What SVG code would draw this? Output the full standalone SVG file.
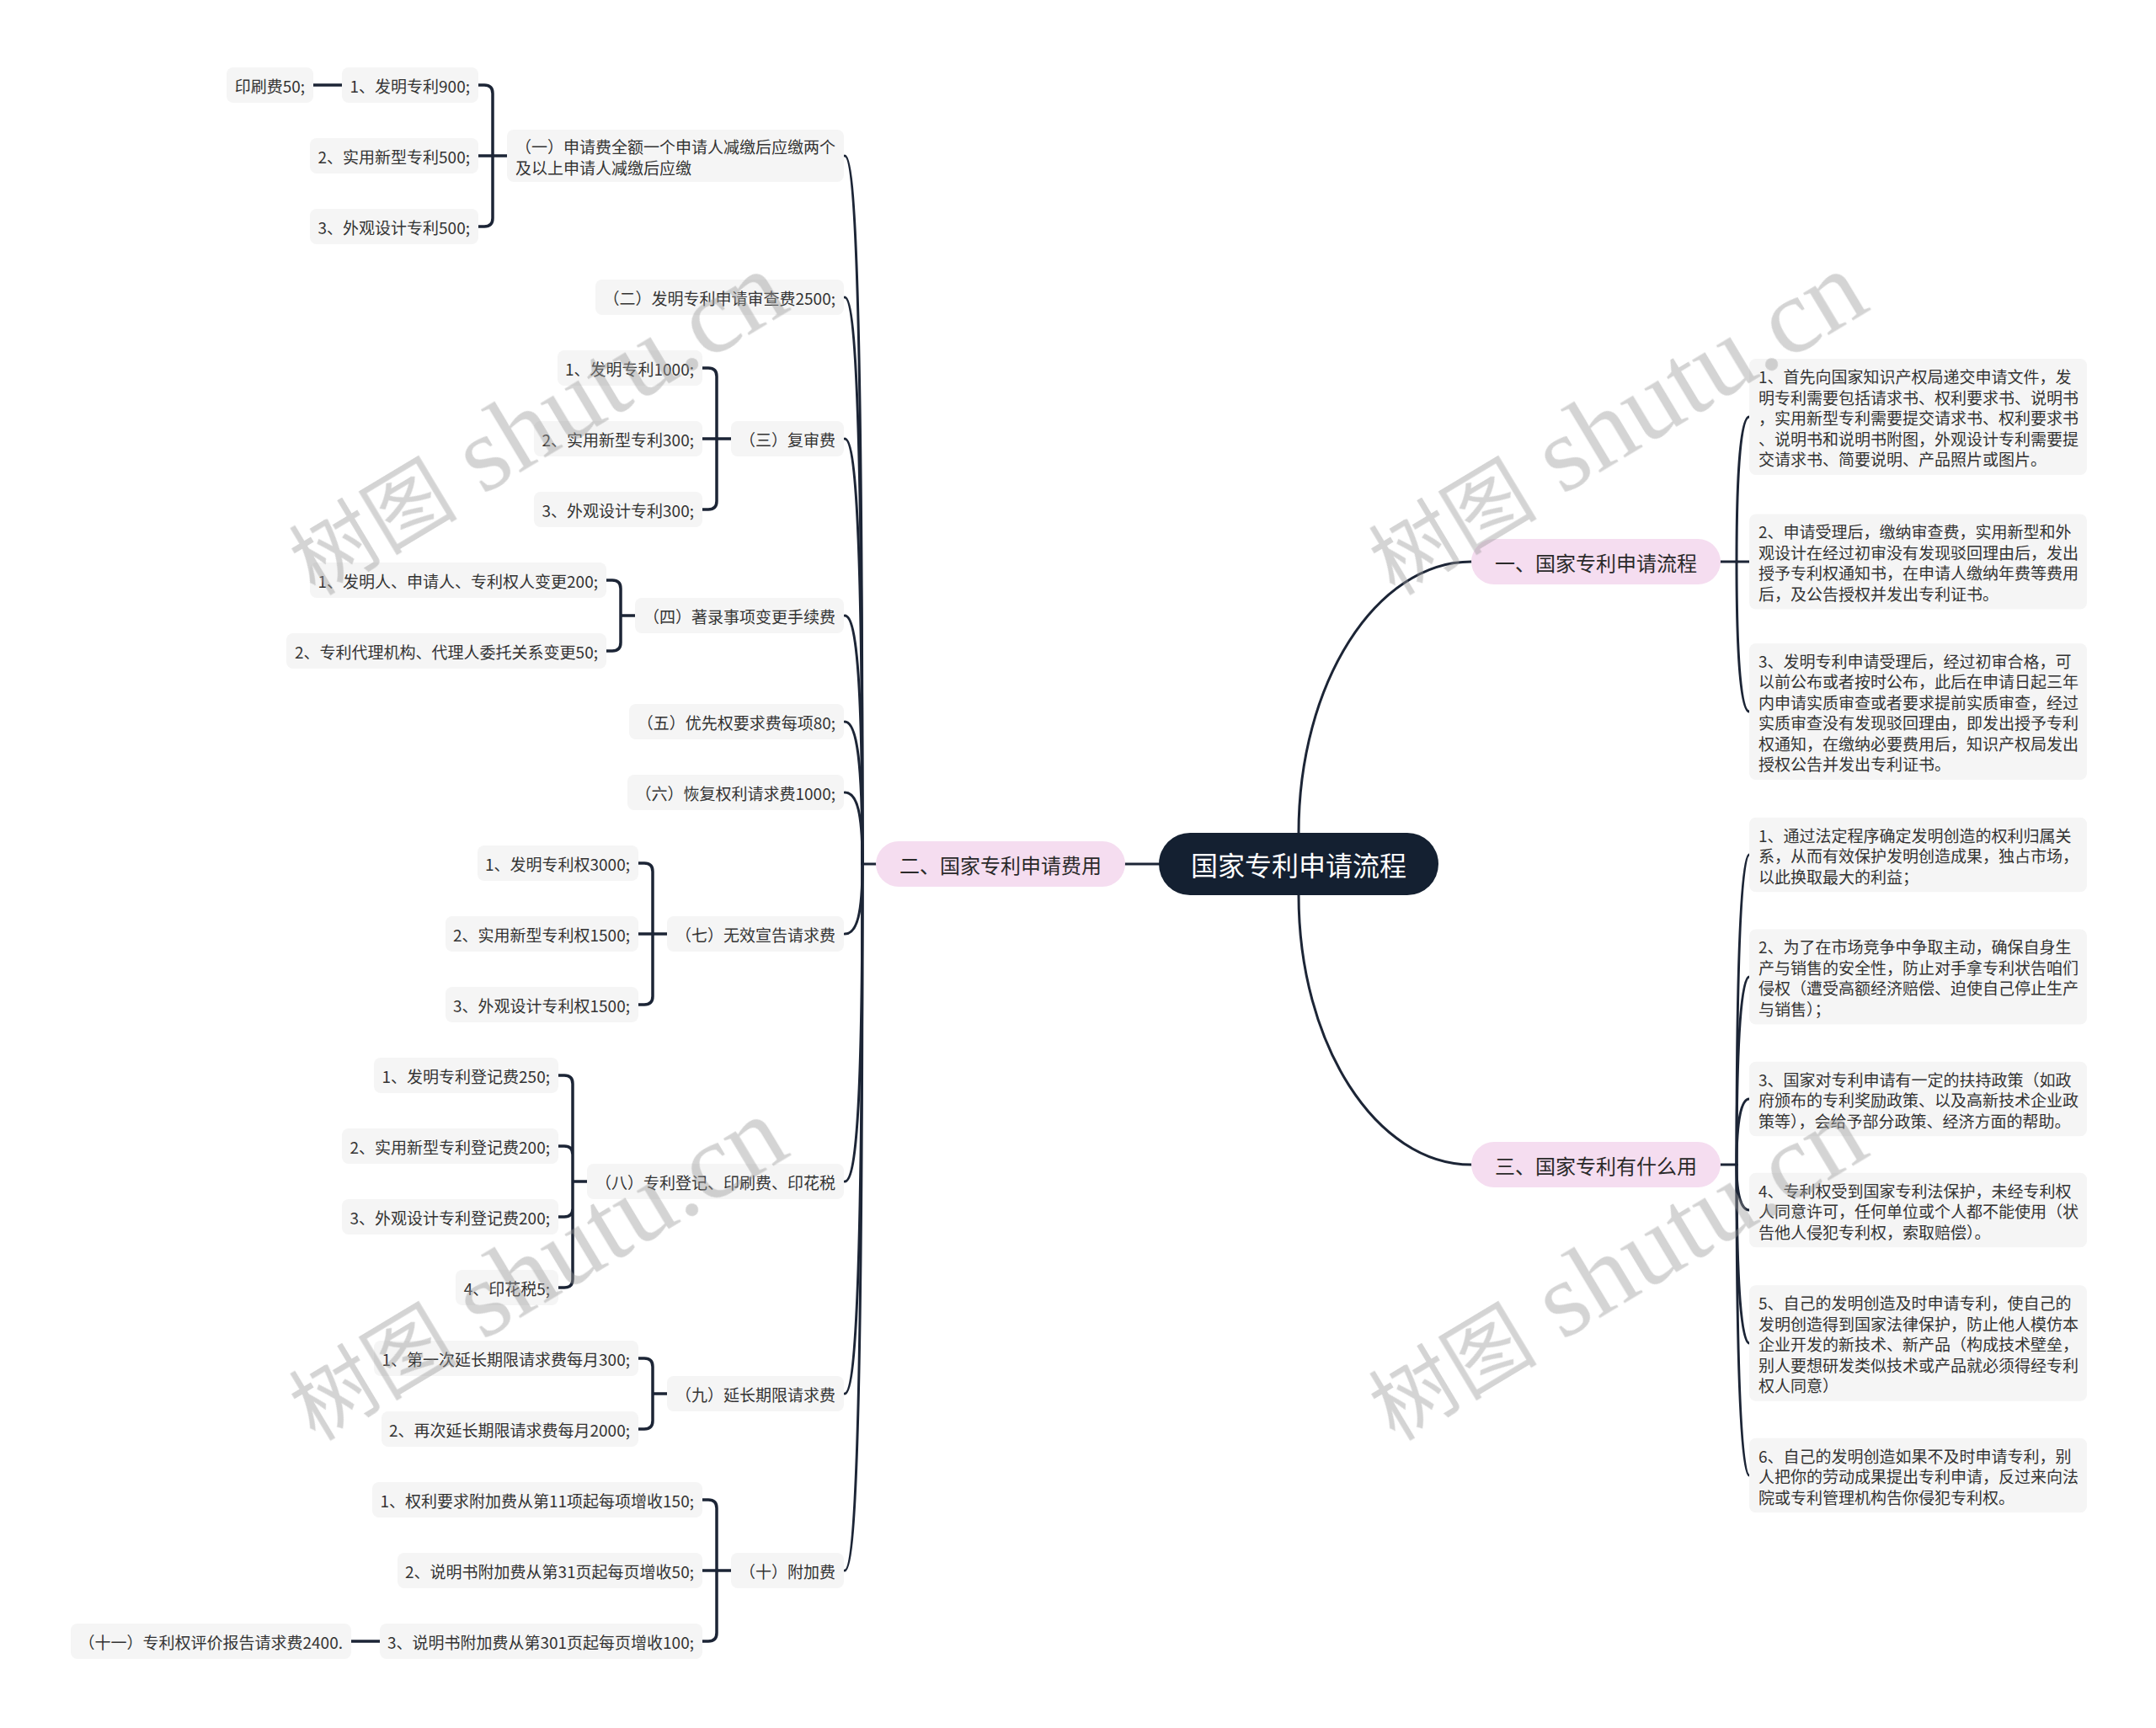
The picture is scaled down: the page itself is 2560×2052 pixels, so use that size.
<svg xmlns="http://www.w3.org/2000/svg" width="2560" height="2052" viewBox="0 0 2560 2052">
<defs>
<style>
.bg{fill:#ffffff}
.box{fill:#f5f5f5}
.pink{fill:#f5ddf0}
.root{fill:#142031}
.t{font-family:"Noto Sans CJK SC","Noto Sans",sans-serif;font-size:19px;fill:#333333;dominant-baseline:central}
.e{text-anchor:end}
.bt{font-family:"Noto Sans CJK SC","Noto Sans",sans-serif;font-size:24px;fill:#2a2a2a;text-anchor:middle;dominant-baseline:central}
.rt{font-family:"Noto Sans CJK SC","Noto Sans",sans-serif;font-size:32px;fill:#ffffff;text-anchor:middle;dominant-baseline:central}
.c{fill:none;stroke:#1c2536;stroke-width:3;stroke-linecap:round}
.k{fill:none;stroke:#1c2536;stroke-width:3.5;stroke-linecap:round}
.wm{fill:#9a9a9a;opacity:0.42}
</style>
</defs>
<rect class="bg" x="0" y="0" width="2560" height="2052"/>

<g id="connectors">
<path class="c" d="M1376 1026 H1336"/>
<path class="c" d="M1542 989 C1542 811 1634 667 1747 667"/>
<path class="c" d="M1542 1063 C1542 1240 1634 1383 1747 1383"/>
<path class="c" d="M1040 1026 H1024"/>
<path class="c" d="M1024 1026 C1024 437 1018 185 1003 185"/>
<path class="c" d="M1024 1026 C1024 555 1018 353 1003 353"/>
<path class="c" d="M1024 1026 C1024 672 1018 521 1003 521"/>
<path class="c" d="M1024 1026 C1024 820 1018 731 1003 731"/>
<path class="c" d="M1024 1026 C1024 908 1018 857 1003 857"/>
<path class="c" d="M1024 1026 C1024 966 1018 941 1003 941"/>
<path class="c" d="M1024 1026 C1024 1084 1018 1109 1003 1109"/>
<path class="c" d="M1024 1026 C1024 1290 1018 1403 1003 1403"/>
<path class="c" d="M1024 1026 C1024 1466 1018 1655 1003 1655"/>
<path class="c" d="M1024 1026 C1024 1613 1018 1865 1003 1865"/>
<path class="k" d="M602 185 H585 M585 185 V111 Q585 101 575 101 H568 M585 185 H568 M585 185 V259 Q585 269 575 269 H568"/>
<path class="k" d="M406 101 H372"/>
<path class="k" d="M868 521 H851 M851 521 V447 Q851 437 841 437 H834 M851 521 H834 M851 521 V595 Q851 605 841 605 H834"/>
<path class="k" d="M754 731 H737 M737 731 V699 Q737 689 727 689 H720 M737 731 V763 Q737 773 727 773 H720"/>
<path class="k" d="M792 1109 H775 M775 1109 V1035 Q775 1025 765 1025 H758 M775 1109 H758 M775 1109 V1183 Q775 1193 765 1193 H758"/>
<path class="k" d="M697 1403 H680 M680 1403 V1287 Q680 1277 670 1277 H663 M680 1403 V1371 Q680 1361 670 1361 H663 M680 1403 V1435 Q680 1445 670 1445 H663 M680 1403 V1519 Q680 1529 670 1529 H663"/>
<path class="k" d="M792 1655 H775 M775 1655 V1623 Q775 1613 765 1613 H758 M775 1655 V1687 Q775 1697 765 1697 H758"/>
<path class="k" d="M868 1865 H851 M851 1865 V1791 Q851 1781 841 1781 H834 M851 1865 H834 M851 1865 V1939 Q851 1949 841 1949 H834"/>
<path class="k" d="M451 1949 H417"/>
<path class="c" d="M2043 667 H2062"/>
<path class="c" d="M2062 667 C2062 547 2068 495 2077 495"/>
<path class="c" d="M2062 667 H2077"/>
<path class="c" d="M2062 667 C2062 792 2068 845 2077 845"/>
<path class="c" d="M2043 1383 H2062"/>
<path class="c" d="M2062 1383 C2062 1125 2068 1015 2077 1015"/>
<path class="c" d="M2062 1383 C2062 1227 2068 1160 2077 1160"/>
<path class="c" d="M2062 1383 C2062 1328 2068 1305 2077 1305"/>
<path class="c" d="M2062 1383 C2062 1421 2068 1437 2077 1437"/>
<path class="c" d="M2062 1383 C2062 1531 2068 1595 2077 1595"/>
<path class="c" d="M2062 1383 C2062 1641 2068 1752 2077 1752"/>
</g>

<g id="root"><rect class="root" x="1376" y="989" width="332" height="74" rx="37"/><text class="rt" x="1542" y="1026">国家专利申请流程</text></g>

<g id="b2"><rect class="pink" x="1040" y="999" width="296" height="54" rx="27"/><text class="bt" x="1188" y="1026">二、国家专利申请费用</text></g>
<g id="b1"><rect class="pink" x="1747" y="640" width="296" height="54" rx="27"/><text class="bt" x="1895" y="667">一、国家专利申请流程</text></g>
<g id="b3"><rect class="pink" x="1747" y="1356" width="296" height="54" rx="27"/><text class="bt" x="1895" y="1383">三、国家专利有什么用</text></g>

<g id="f1"><rect class="box" x="602" y="154" width="400" height="62" rx="8"/><text class="t"><tspan x="612" y="173">（一）申请费全额一个申请人减缴后应缴两个</tspan><tspan x="612" y="197.5">及以上申请人减缴后应缴</tspan></text></g>
<g id="f2"><rect class="box" x="707" y="332" width="295" height="42" rx="8"/><text class="t e" x="992" y="353">（二）发明专利申请审查费2500;</text></g>
<g id="f3"><rect class="box" x="868" y="500" width="134" height="42" rx="8"/><text class="t e" x="992" y="521">（三）复审费</text></g>
<g id="f4"><rect class="box" x="754" y="710" width="248" height="42" rx="8"/><text class="t e" x="992" y="731">（四）著录事项变更手续费</text></g>
<g id="f5"><rect class="box" x="747" y="836" width="255" height="42" rx="8"/><text class="t e" x="992" y="857">（五）优先权要求费每项80;</text></g>
<g id="f6"><rect class="box" x="745" y="920" width="257" height="42" rx="8"/><text class="t e" x="992" y="941">（六）恢复权利请求费1000;</text></g>
<g id="f7"><rect class="box" x="792" y="1088" width="210" height="42" rx="8"/><text class="t e" x="992" y="1109">（七）无效宣告请求费</text></g>
<g id="f8"><rect class="box" x="697" y="1382" width="305" height="42" rx="8"/><text class="t e" x="992" y="1403">（八）专利登记、印刷费、印花税</text></g>
<g id="f9"><rect class="box" x="792" y="1634" width="210" height="42" rx="8"/><text class="t e" x="992" y="1655">（九）延长期限请求费</text></g>
<g id="f10"><rect class="box" x="868" y="1844" width="134" height="42" rx="8"/><text class="t e" x="992" y="1865">（十）附加费</text></g>

<g id="f1a"><rect class="box" x="406" y="80" width="162" height="42" rx="8"/><text class="t e" x="558" y="101">1、发明专利900;</text></g>
<g id="f1a1"><rect class="box" x="269" y="80" width="103" height="42" rx="8"/><text class="t e" x="362" y="101">印刷费50;</text></g>
<g id="f1b"><rect class="box" x="368" y="164" width="200" height="42" rx="8"/><text class="t e" x="558" y="185">2、实用新型专利500;</text></g>
<g id="f1c"><rect class="box" x="368" y="248" width="200" height="42" rx="8"/><text class="t e" x="558" y="269">3、外观设计专利500;</text></g>

<g id="f3a"><rect class="box" x="662" y="416" width="172" height="42" rx="8"/><text class="t e" x="824" y="437">1、发明专利1000;</text></g>
<g id="f3b"><rect class="box" x="634" y="500" width="200" height="42" rx="8"/><text class="t e" x="824" y="521">2、实用新型专利300;</text></g>
<g id="f3c"><rect class="box" x="634" y="584" width="200" height="42" rx="8"/><text class="t e" x="824" y="605">3、外观设计专利300;</text></g>

<g id="f4a"><rect class="box" x="368" y="668" width="352" height="42" rx="8"/><text class="t e" x="710" y="689">1、发明人、申请人、专利权人变更200;</text></g>
<g id="f4b"><rect class="box" x="340" y="752" width="380" height="42" rx="8"/><text class="t e" x="710" y="773">2、专利代理机构、代理人委托关系变更50;</text></g>

<g id="f7a"><rect class="box" x="567" y="1004" width="191" height="42" rx="8"/><text class="t e" x="748" y="1025">1、发明专利权3000;</text></g>
<g id="f7b"><rect class="box" x="529" y="1088" width="229" height="42" rx="8"/><text class="t e" x="748" y="1109">2、实用新型专利权1500;</text></g>
<g id="f7c"><rect class="box" x="529" y="1172" width="229" height="42" rx="8"/><text class="t e" x="748" y="1193">3、外观设计专利权1500;</text></g>

<g id="f8a"><rect class="box" x="444" y="1256" width="219" height="42" rx="8"/><text class="t e" x="653" y="1277">1、发明专利登记费250;</text></g>
<g id="f8b"><rect class="box" x="406" y="1340" width="257" height="42" rx="8"/><text class="t e" x="653" y="1361">2、实用新型专利登记费200;</text></g>
<g id="f8c"><rect class="box" x="406" y="1424" width="257" height="42" rx="8"/><text class="t e" x="653" y="1445">3、外观设计专利登记费200;</text></g>
<g id="f8d"><rect class="box" x="541" y="1508" width="122" height="42" rx="8"/><text class="t e" x="653" y="1529">4、印花税5;</text></g>

<g id="f9a"><rect class="box" x="444" y="1592" width="314" height="42" rx="8"/><text class="t e" x="748" y="1613">1、第一次延长期限请求费每月300;</text></g>
<g id="f9b"><rect class="box" x="453" y="1676" width="305" height="42" rx="8"/><text class="t e" x="748" y="1697">2、再次延长期限请求费每月2000;</text></g>

<g id="f10a"><rect class="box" x="442" y="1760" width="392" height="42" rx="8"/><text class="t e" x="824" y="1781">1、权利要求附加费从第11项起每项增收150;</text></g>
<g id="f10b"><rect class="box" x="472" y="1844" width="362" height="42" rx="8"/><text class="t e" x="824" y="1865">2、说明书附加费从第31页起每页增收50;</text></g>
<g id="f10c"><rect class="box" x="451" y="1928" width="383" height="42" rx="8"/><text class="t e" x="824" y="1949">3、说明书附加费从第301页起每页增收100;</text></g>
<g id="f11"><rect class="box" x="84" y="1928" width="333" height="42" rx="8"/><text class="t e" x="407" y="1949">（十一）专利权评价报告请求费2400.</text></g>

<g id="p1"><rect class="box" x="2077" y="426" width="401" height="138" rx="8"/><text class="t"><tspan x="2088" y="446">1、首先向国家知识产权局递交申请文件，发</tspan><tspan x="2088" y="470.5">明专利需要包括请求书、权利要求书、说明书</tspan><tspan x="2088" y="495">，实用新型专利需要提交请求书、权利要求书</tspan><tspan x="2088" y="519.5">、说明书和说明书附图，外观设计专利需要提</tspan><tspan x="2088" y="544">交请求书、简要说明、产品照片或图片。</tspan></text></g>
<g id="p2"><rect class="box" x="2077" y="610.5" width="401" height="113" rx="8"/><text class="t"><tspan x="2088" y="630.25">2、申请受理后，缴纳审查费，实用新型和外</tspan><tspan x="2088" y="654.75">观设计在经过初审没有发现驳回理由后，发出</tspan><tspan x="2088" y="679.25">授予专利权通知书，在申请人缴纳年费等费用</tspan><tspan x="2088" y="703.75">后，及公告授权并发出专利证书。</tspan></text></g>
<g id="p3"><rect class="box" x="2077" y="764" width="401" height="162" rx="8"/><text class="t"><tspan x="2088" y="783.75">3、发明专利申请受理后，经过初审合格，可</tspan><tspan x="2088" y="808.25">以前公布或者按时公布，此后在申请日起三年</tspan><tspan x="2088" y="832.75">内申请实质审查或者要求提前实质审查，经过</tspan><tspan x="2088" y="857.25">实质审查没有发现驳回理由，即发出授予专利</tspan><tspan x="2088" y="881.75">权通知，在缴纳必要费用后，知识产权局发出</tspan><tspan x="2088" y="906.25">授权公告并发出专利证书。</tspan></text></g>

<g id="u1"><rect class="box" x="2077" y="970.75" width="401" height="88.5" rx="8"/><text class="t"><tspan x="2088" y="990.5">1、通过法定程序确定发明创造的权利归属关</tspan><tspan x="2088" y="1015">系，从而有效保护发明创造成果，独占市场，</tspan><tspan x="2088" y="1039.5">以此换取最大的利益；</tspan></text></g>
<g id="u2"><rect class="box" x="2077" y="1103.5" width="401" height="113" rx="8"/><text class="t"><tspan x="2088" y="1123.25">2、为了在市场竞争中争取主动，确保自身生</tspan><tspan x="2088" y="1147.75">产与销售的安全性，防止对手拿专利状告咱们</tspan><tspan x="2088" y="1172.25">侵权（遭受高额经济赔偿、迫使自己停止生产</tspan><tspan x="2088" y="1196.75">与销售）；</tspan></text></g>
<g id="u3"><rect class="box" x="2077" y="1260.75" width="401" height="88.5" rx="8"/><text class="t"><tspan x="2088" y="1280.5">3、国家对专利申请有一定的扶持政策（如政</tspan><tspan x="2088" y="1305">府颁布的专利奖励政策、以及高新技术企业政</tspan><tspan x="2088" y="1329.5">策等），会给予部分政策、经济方面的帮助。</tspan></text></g>
<g id="u4"><rect class="box" x="2077" y="1392.75" width="401" height="88.5" rx="8"/><text class="t"><tspan x="2088" y="1412.5">4、专利权受到国家专利法保护，未经专利权</tspan><tspan x="2088" y="1437">人同意许可，任何单位或个人都不能使用（状</tspan><tspan x="2088" y="1461.5">告他人侵犯专利权，索取赔偿）。</tspan></text></g>
<g id="u5"><rect class="box" x="2077" y="1526.25" width="401" height="137.5" rx="8"/><text class="t"><tspan x="2088" y="1546">5、自己的发明创造及时申请专利，使自己的</tspan><tspan x="2088" y="1570.5">发明创造得到国家法律保护，防止他人模仿本</tspan><tspan x="2088" y="1595">企业开发的新技术、新产品（构成技术壁垒，</tspan><tspan x="2088" y="1619.5">别人要想研发类似技术或产品就必须得经专利</tspan><tspan x="2088" y="1644">权人同意）</tspan></text></g>
<g id="u6"><rect class="box" x="2077" y="1707.75" width="401" height="88.5" rx="8"/><text class="t"><tspan x="2088" y="1727.5">6、自己的发明创造如果不及时申请专利，别</tspan><tspan x="2088" y="1752">人把你的劳动成果提出专利申请，反过来向法</tspan><tspan x="2088" y="1776.5">院或专利管理机构告你侵犯专利权。</tspan></text></g>

<g id="watermark" class="wm">
<text transform="translate(374 708) rotate(-31)"><tspan font-family="Noto Sans CJK SC, sans-serif" font-size="100">树图</tspan><tspan font-family="Liberation Serif, serif" font-size="128"> shutu.cn</tspan></text>
<text transform="translate(1656 708) rotate(-31)"><tspan font-family="Noto Sans CJK SC, sans-serif" font-size="100">树图</tspan><tspan font-family="Liberation Serif, serif" font-size="128"> shutu.cn</tspan></text>
<text transform="translate(374 1712) rotate(-31)"><tspan font-family="Noto Sans CJK SC, sans-serif" font-size="100">树图</tspan><tspan font-family="Liberation Serif, serif" font-size="128"> shutu.cn</tspan></text>
<text transform="translate(1656 1712) rotate(-31)"><tspan font-family="Noto Sans CJK SC, sans-serif" font-size="100">树图</tspan><tspan font-family="Liberation Serif, serif" font-size="128"> shutu.cn</tspan></text>
</g>
</svg>
